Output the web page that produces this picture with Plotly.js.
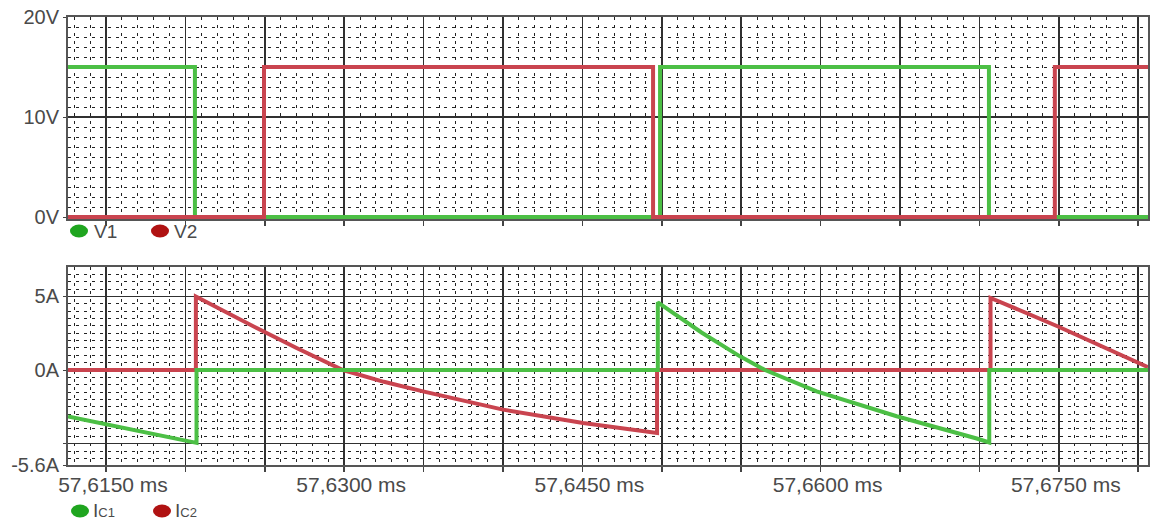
<!DOCTYPE html>
<html>
<head>
<meta charset="utf-8">
<script src="https://cdn.plot.ly/plotly-3.0.1.min.js"></script>
<style>html,body{margin:0;padding:0;background:#fff;}#chart{width:1152px;height:521px;}</style>
</head>
<body>
<div id="chart"></div>
<script>
// ---- Data (time in ms) ----
const timeV1 = [57.61261, 57.62060, 57.64989, 57.67060, 57.68062];
const v1     = [15, 0, 15, 0, 0];
const timeV2 = [57.61261, 57.62495, 57.64945, 57.67475, 57.68062];
const v2     = [0, 15, 0, 15, 15];

const timeIc1 = [57.61261, 57.61670, 57.62048, 57.62070, 57.62070, 57.64975, 57.64975, 57.65250, 57.65492, 57.65650, 57.65975, 57.66479, 57.66983, 57.67062, 57.67062, 57.68062];
const ic1     = [-3.15, -4.07, -4.93, -4.95, 0, 0, 4.6, 2.55, 0.93, 0, -1.45, -3.14, -4.65, -4.92, 0, 0];
const timeIc2 = [57.61261, 57.62066, 57.62066, 57.62250, 57.62449, 57.62700, 57.62992, 57.63250, 57.63496, 57.64000, 57.64504, 57.64970, 57.64970, 57.67070, 57.67070, 57.67495, 57.67865, 57.68062];
const ic2     = [0, 0, 5.0, 3.95, 2.85, 1.50, 0, -0.80, -1.45, -2.69, -3.60, -4.27, 0, 0, 4.9, 2.96, 1.20, 0.2];

const xTickVals = [57.615, 57.620, 57.625, 57.630, 57.635, 57.640, 57.645, 57.650, 57.655, 57.660, 57.665, 57.670, 57.675, 57.680];
const xTickText = ["57,6150 ms", "", "", "57,6300 ms", "", "", "57,6450 ms", "", "", "57,6600 ms", "", "", "57,6750 ms", ""];
const vTickVals = [0, 10, 20];
const vTickText = ["0V", "10V", "20V"];
const iTickVals = [-6.45, -5, 0, 5];
const iTickText = ["-5.6A", "", "0A", "5A"];
const legendTop = ["V1", "V2"];
const legendBottom = ["I<span style='font-size:13px'>C1</span>", "I<span style='font-size:13px'>C2</span>"];

const GREEN = "#4cbf45";
const RED = "#c9444f";
const DOT_GREEN = "#1fa51f";
const DOT_RED = "#b01212";
const FONT = "Liberation Sans, Arial, sans-serif";
const xRange = [57.612607, 57.680617];

const minorGrid = (dtick, tick0) => ({dtick: dtick, tick0: tick0, showgrid: true, gridcolor: "#222222", gridwidth: 1, griddash: "3px,5px", ticks: ""});

const xBase = {
  range: xRange, tickmode: "array", tickvals: xTickVals, ticktext: xTickText,
  showgrid: true, gridcolor: "#303030", gridwidth: 1.6,
  showline: true, mirror: true, linecolor: "#555", linewidth: 2,
  ticks: "outside", ticklen: 5, tickcolor: "#444", tickwidth: 1.5,
  ticklabelshift: 7, ticklabelstandoff: -5,
  zeroline: false, fixedrange: true,
  minor: minorGrid(0.001, 57.615),
  tickfont: {family: FONT, size: 21, color: "#4a4a4a"}
};

const yBase = {
  tickmode: "array",
  showgrid: true, gridcolor: "#303030", gridwidth: 1.6,
  showline: true, mirror: true, linecolor: "#555", linewidth: 2,
  ticks: "outside", ticklen: 3, tickcolor: "#444", zeroline: false, fixedrange: true,
  tickfont: {family: FONT, size: 20, color: "#4a4a4a"}
};

const traces = [
  {x: timeV1, y: v1, type: "scatter", mode: "lines", line: {color: GREEN, width: 4, shape: "hv"}, name: "V1", xaxis: "x", yaxis: "y", showlegend: false},
  {x: timeV2, y: v2, type: "scatter", mode: "lines", line: {color: RED, width: 4, shape: "hv"}, name: "V2", xaxis: "x", yaxis: "y", showlegend: false},
  {x: timeIc2, y: ic2, type: "scatter", mode: "lines", line: {color: RED, width: 4}, name: "Ic2", xaxis: "x2", yaxis: "y2", showlegend: false},
  {x: timeIc1, y: ic1, type: "scatter", mode: "lines", line: {color: GREEN, width: 4}, name: "Ic1", xaxis: "x2", yaxis: "y2", showlegend: false}
];

const pxX = p => (p - 68) / 1080;
const pxY = p => (465 - p) / 448;

const label = (px, py, text) => ({
  xref: "paper", yref: "paper", x: pxX(px), y: pxY(py), xanchor: "left", yanchor: "middle",
  showarrow: false, text: text, borderpad: 0,
  font: {family: FONT, size: 19, color: "#4a4a4a"}
});
const dot = (cx, cy, color) => ({
  type: "circle", xref: "paper", yref: "paper",
  x0: pxX(cx - 9), x1: pxX(cx + 9), y0: pxY(cy + 6.5), y1: pxY(cy - 6.5),
  fillcolor: color, line: {width: 0}
});

const layout = {
  width: 1152, height: 521,
  margin: {l: 68, r: 4, t: 17, b: 56},
  paper_bgcolor: "#ffffff", plot_bgcolor: "#ffffff",
  showlegend: false,
  xaxis: Object.assign({}, xBase, {anchor: "y", showticklabels: false}),
  xaxis2: Object.assign({}, xBase, {anchor: "y2"}),
  yaxis: Object.assign({}, yBase, {
    domain: [0.548, 1], range: [-0.25, 20], tickvals: vTickVals, ticktext: vTickText,
    minor: minorGrid(1, 0)
  }),
  yaxis2: Object.assign({}, yBase, {
    domain: [0, 0.442], range: [-6.45, 7.0], tickvals: iTickVals, ticktext: iTickText,
    minor: minorGrid(0.5, 0)
  }),
  shapes: [
    dot(79, 231, DOT_GREEN), dot(160, 231, DOT_RED),
    dot(80, 511, DOT_GREEN), dot(162, 511, DOT_RED)
  ],
  annotations: [
    label(93, 231, legendTop[0]),
    label(173, 231, legendTop[1]),
    label(92, 510, legendBottom[0]),
    label(174, 510, legendBottom[1])
  ]
};

Plotly.newPlot("chart", traces, layout, {displayModeBar: false, staticPlot: true});
</script>
</body>
</html>
